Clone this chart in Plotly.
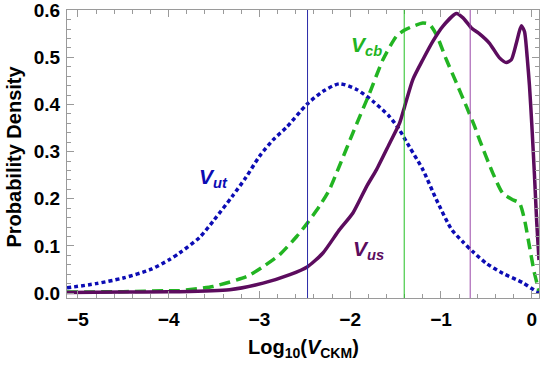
import plotly.graph_objects as go

# ---- data ----
x_ut = [-5.12, -4.8, -4.5, -4.2, -4.0, -3.88, -3.66, -3.5, -3.3, -3.15, -3.0, -2.85, -2.7,
        -2.48, -2.3, -2.12, -1.93, -1.75, -1.57, -1.46, -1.35, -1.2, -1.05, -0.88, -0.76,
        -0.65, -0.5, -0.32, -0.1, 0.05, 0.08]
y_ut = [0.011, 0.02, 0.032, 0.05, 0.07, 0.085, 0.118, 0.155, 0.205, 0.245, 0.29, 0.325, 0.352,
        0.40, 0.428, 0.444, 0.432, 0.407, 0.375, 0.347, 0.311, 0.262, 0.198, 0.134, 0.109,
        0.088, 0.063, 0.042, 0.022, 0.004, 0.003]

x_cb = [-5.12, -4.5, -4.0, -3.88, -3.51, -3.14, -2.96, -2.78, -2.59, -2.47, -2.34, -2.23,
        -2.12, -1.97, -1.785, -1.64, -1.49, -1.40, -1.31, -1.20, -1.125, -1.05, -0.94, -0.83,
        -0.72, -0.63, -0.575, -0.43, -0.32, -0.21, -0.135, -0.08, -0.025, 0.03, 0.08]
y_cb = [0.002, 0.003, 0.005, 0.005, 0.014, 0.035, 0.056, 0.081, 0.12, 0.149, 0.184, 0.219,
        0.269, 0.34, 0.425, 0.495, 0.545, 0.558, 0.566, 0.573, 0.570, 0.548, 0.495, 0.446,
        0.396, 0.354, 0.325, 0.255, 0.212, 0.198, 0.191, 0.156, 0.099, 0.042, 0.005]

x_us = [-5.12, -4.5, -4.0, -3.88, -3.33, -2.96, -2.665, -2.47, -2.30, -2.12, -1.97, -1.82,
        -1.71, -1.565, -1.455, -1.40, -1.31, -1.20, -1.09, -0.98, -0.83, -0.757, -0.667,
        -0.575, -0.465, -0.355, -0.28, -0.225, -0.17, -0.115, -0.08, -0.05, -0.025, 0.0,
        0.03, 0.055, 0.08]
y_us = [0.001, 0.002, 0.003, 0.003, 0.007, 0.021, 0.039, 0.056, 0.085, 0.134, 0.17, 0.226,
        0.262, 0.318, 0.361, 0.396, 0.453, 0.495, 0.534, 0.566, 0.593, 0.584, 0.563,
        0.550, 0.53, 0.499, 0.489, 0.495, 0.53, 0.567, 0.555, 0.50, 0.44, 0.36,
        0.25, 0.15, 0.07]

vline_x = [-2.47, -1.405, -0.678]
vline_colors = ["#2a2aa8", "#22c022", "#9a48a8"]

label_text = ["V<sub>ut</sub>", "V<sub>cb</sub>", "V<sub>us</sub>"]
label_x = [-3.51, -1.815, -1.80]
label_y = [0.244, 0.524, 0.091]

x_ticks = [-5, -4, -3, -2, -1, 0]
y_ticks = [0.0, 0.1, 0.2, 0.3, 0.4, 0.5, 0.6]

# ---- styles ----
C_UT = "#0c0cb4"
C_CB = "#22b422"
C_US = "#5c0c5e"
FONT = "Liberation Sans, Arial, sans-serif"
AXC = "#9a9a9a"

fig = go.Figure()
fig.add_trace(go.Scatter(x=x_ut, y=y_ut, mode="lines",
                         line=dict(color=C_UT, width=3.5, dash="4px,3px", shape="spline", smoothing=0.7)))
fig.add_trace(go.Scatter(x=x_cb, y=y_cb, mode="lines",
                         line=dict(color=C_CB, width=3.5, dash="11px,6px", shape="spline", smoothing=0.6)))
fig.add_trace(go.Scatter(x=x_us, y=y_us, mode="lines",
                         line=dict(color=C_US, width=3.5, shape="spline", smoothing=0.6)))

for vx, vc in zip(vline_x, vline_colors):
    fig.add_shape(type="line", x0=vx, x1=vx, xref="x", yref="paper", y0=0, y1=1,
                  line=dict(color=vc, width=1))

for t, lx, ly, c in zip(label_text, label_x, label_y, [C_UT, C_CB, C_US]):
    fig.add_annotation(x=lx, y=ly, xref="x", yref="y", text=t, showarrow=False,
                       font=dict(family=FONT, size=21, color=c, weight="bold", style="italic"))

fig.add_annotation(x=0.5, y=-0.175, xref="paper", yref="paper", showarrow=False,
                   text="Log<sub>10</sub>(<i>V</i><sub>CKM</sub>)", yanchor="middle",
                   font=dict(family=FONT, size=20, color="black", weight="bold"))
fig.add_annotation(x=-0.113, y=0.49, xref="paper", yref="paper", showarrow=False,
                   text="Probability Density", textangle=-90, xanchor="center", yanchor="middle",
                   font=dict(family=FONT, size=20, color="black", weight="bold"))

axis_common = dict(showgrid=False, zeroline=False, showline=True, linecolor=AXC, linewidth=1,
                   mirror="ticks", ticks="inside", ticklen=7, tickcolor=AXC, tickwidth=1,
                   ticklabeloverflow="allow",
                   tickfont=dict(family=FONT, size=19, color="black", weight="bold"))

fig.update_xaxes(range=[-5.12, 0.08], tickvals=x_ticks, ticklabelstandoff=4,
                 minor=dict(dtick=0.2, tick0=0, ticks="inside", ticklen=4, tickcolor=AXC),
                 **axis_common)
fig.update_yaxes(range=[-0.0105, 0.6006], tickvals=y_ticks, tickformat=".1f", ticklabelstandoff=2,
                 minor=dict(dtick=0.02, tick0=0, ticks="inside", ticklen=4, tickcolor=AXC),
                 **axis_common)

fig.update_layout(width=540, height=365, margin=dict(l=67, r=1, t=10, b=67),
                  paper_bgcolor="white", plot_bgcolor="white", showlegend=False,
                  font=dict(family=FONT))

fig.write_html("out.html")
